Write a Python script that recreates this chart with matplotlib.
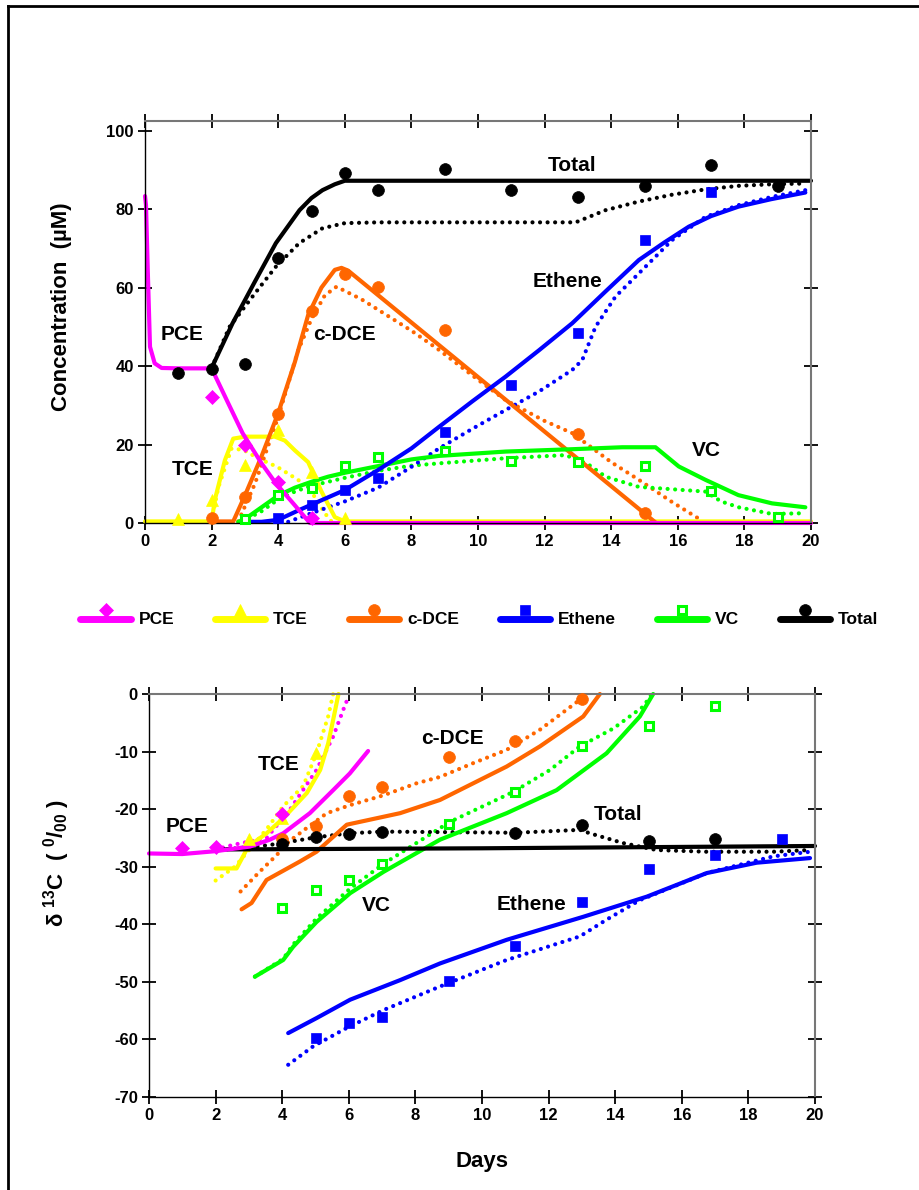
import matplotlib
matplotlib.use("Agg")
import matplotlib.pyplot as plt
from matplotlib.lines import Line2D
from matplotlib.legend_handler import HandlerBase

plt.rcParams["font.family"] = ["Liberation Sans", "DejaVu Sans"]
plt.rcParams["font.weight"] = "bold"
plt.rcParams["axes.labelweight"] = "bold"
plt.rcParams["axes.unicode_minus"] = False
plt.rcParams["mathtext.fontset"] = "custom"
plt.rcParams["mathtext.rm"] = "Liberation Sans"
plt.rcParams["mathtext.bf"] = "Liberation Sans:bold"
plt.rcParams["mathtext.default"] = "bf"

# ---------------- concentration panel (uM) ----------------
pce_obs_days = [2, 3, 4, 5]
pce_obs = [32.2, 19.9, 10.5, 1.3]
pce_fit_days = [0.0, 0.03, 0.08, 0.15, 0.29, 0.5, 1.0, 2.0, 2.5, 2.93, 3.5, 3.93, 4.5, 4.95, 20]
pce_fit = [83.3, 81.0, 65.3, 44.9, 40.7, 39.5, 39.4, 39.4, 30.5, 22.9, 15.2, 10.1, 4.5, 0.0, 0.0]

tce_obs_days = [1, 2, 3, 4, 5, 6]
tce_obs = [0.9, 5.9, 14.8, 23.7, 13.1, 1.2]
tce_fit_days = [0, 2.0, 2.1, 2.4, 2.65, 3.0, 3.9, 4.2, 4.5, 4.9, 5.3, 5.7, 6.0, 20]
tce_fit = [0.4, 0.4, 6, 16, 21.5, 22, 22, 21, 18.5, 15.5, 8, 1.5, 0.4, 0.4]
tce_alt_days = [2.0, 2.2, 2.6, 2.96, 3.4, 3.97, 4.5, 4.9, 5.4, 5.6]
tce_alt = [0.4, 9, 19, 18.6, 16.5, 14.3, 11.5, 9.3, 2.5, 0.4]

cdce_obs_days = [2, 3, 4, 5, 6, 7, 9, 13, 15]
cdce_obs = [1.2, 6.5, 27.7, 54.1, 63.4, 60.2, 49.2, 22.6, 2.5]
cdce_fit_days = [2.0, 2.65, 3.0, 3.5, 4.0, 4.5, 4.9, 5.3, 5.7, 5.9, 6.1, 15.35]
cdce_fit = [0.4, 0.4, 7, 17, 28, 41, 53, 60, 64.5, 65, 64.3, 0]
cdce_alt_days = [2.8, 3.3, 4.0, 4.6, 5.0, 5.4, 5.75, 6.5, 8.0, 8.83, 10.0, 10.83, 12.0, 12.83,
                 14.0, 14.83, 15.8, 16.65]
cdce_alt = [0.4, 10, 27, 44, 52, 58, 60.2, 57, 49, 44.1, 36.5, 31.3, 26, 22.9, 15.5, 11, 5.5, 1.0]

eth_obs_days = [4, 5, 6, 7, 9, 11, 13, 15, 17]
eth_obs = [1.2, 4.6, 8.4, 11.4, 23.3, 35.2, 48.3, 72.1, 84.3]
eth_fit_days = [3.0, 3.5, 4.0, 4.63, 5.3, 6.0, 7.0, 8.0, 8.83, 9.83, 10.83, 11.83, 12.83,
                13.83, 14.83, 15.6, 16.33, 17.0, 17.82, 18.8, 19.83]
eth_fit = [0.3, 0.3, 0.8, 3.3, 5.8, 8.4, 13.5, 19, 24.5, 31, 37.3, 44, 50.9,
           59, 67, 71.5, 75.5, 78.2, 80.6, 82.5, 84.2]
eth_alt_days = [4.3, 5.0, 6.0, 7.0, 8.0, 8.83, 9.83, 10.83, 11.83, 12.83, 13.13, 13.53,
                14.13, 14.83, 15.83, 16.83, 17.83, 18.83, 19.83]
eth_alt = [0.3, 2.5, 5.5, 9, 14.3, 19.0, 24, 28.8, 33.5, 39.0, 41.5, 50.0,
           57.7, 63.6, 72.1, 78.0, 81, 83.1, 84.8]

vc_obs_days = [3, 4, 5, 6, 7, 9, 11, 13, 15, 17, 19]
vc_obs = [0.9, 7.1, 8.8, 14.6, 16.7, 18.4, 15.9, 15.6, 14.6, 8.2, 1.6]
vc_fit_days = [2.8, 3.0, 3.5, 4.0, 4.5, 5.0, 5.5, 6.0, 7.0, 8.0, 8.83, 10.83, 12.83,
               14.33, 15.33, 16.03, 16.83, 17.82, 18.83, 19.83]
vc_fit = [0.3, 1, 4, 7, 9, 10.5, 11.8, 12.8, 14.5, 16.2, 17.1, 18.2, 18.8,
          19.3, 19.3, 14.4, 11, 7.1, 5, 4]
vc_alt_days = [2.9, 3.5, 4.0, 4.5, 5.0, 6.0, 7.0, 8.0, 8.83, 10.83, 12.63, 13.3, 13.83,
               14.83, 15.5, 16.83, 17.3, 17.83, 18.83, 19.83]
vc_alt = [0.3, 3, 6, 8, 9.5, 11.5, 13.3, 14.6, 15.2, 16.5, 17.3, 15, 11.8,
          9.2, 8.8, 8.0, 5.5, 4, 2.3, 2.5]

tot_obs_days = [1, 2, 3, 4, 5, 6, 7, 9, 11, 13, 15, 17, 19]
tot_obs = [38.3, 39.2, 40.5, 67.4, 79.5, 89.1, 84.8, 90.1, 84.8, 83.1, 85.9, 91.1, 85.9]
tot_fit_days = [2.0, 2.63, 3.3, 3.93, 4.64, 5.0, 5.33, 5.7, 6.0, 20]
tot_fit = [39.5, 50.9, 61.5, 71.3, 79.7, 82.8, 84.8, 86.3, 87.2, 87.2]
tot_alt_days = [2.0, 2.54, 3.3, 3.93, 4.63, 5.33, 6.0, 7.0, 12.93, 13.83, 14.83, 15.8,
                16.83, 17.82, 18.8, 19.83]
tot_alt = [39.5, 50, 58.5, 65.3, 71.3, 75.1, 76.4, 76.6, 76.6, 79.7, 81.9, 83.6,
           85, 85.9, 86.3, 86.5]

# ---------------- isotope panel (per mil) ----------------
d_pce_obs_days = [1, 2, 4]
d_pce_obs = [-26.8, -26.5, -20.8]
d_pce_fit_days = [0, 1, 2, 3.03, 3.63, 4.03, 4.83, 5.53, 6.03, 6.58]
d_pce_fit = [-27.7, -27.8, -27.3, -26.5, -25.3, -24.2, -20.7, -16.7, -13.8, -9.9]
d_pce_alt_days = [2.0, 2.53, 3.53, 4.23, 5.03, 5.53, 5.83, 6.0]
d_pce_alt = [-27.0, -26.2, -25.0, -20.1, -13.2, -7.4, -2.8, -0.3]

d_tce_obs_days = [3, 4, 5]
d_tce_obs = [-25.1, -21.6, -10.3]
d_tce_fit_days = [2.0, 2.63, 2.98, 3.53, 4.03, 4.74, 5.14, 5.38, 5.53, 5.69]
d_tce_fit = [-30.3, -30.3, -26.5, -24.2, -21.6, -17.2, -13.2, -8.6, -4.5, 0]
d_tce_alt_days = [2.0, 2.58, 2.93, 3.53, 4.03, 4.63, 5.03, 5.38, 5.53]
d_tce_alt = [-32.4, -30, -27.6, -23.5, -19.5, -16, -10.3, -3.9, 0]

d_cdce_obs_days = [4, 5, 6, 7, 9, 11, 13]
d_cdce_obs = [-25.1, -22.9, -17.8, -16.2, -11.0, -8.1, -0.9]
d_cdce_fit_days = [2.78, 3.08, 3.53, 4.53, 5.03, 5.94, 7.54, 8.74, 10.74, 11.74, 13.04, 13.54]
d_cdce_fit = [-37.4, -36.3, -32.3, -29.1, -27.4, -22.7, -20.7, -18.4, -12.6, -9.1, -3.9, 0]
d_cdce_alt_days = [2.75, 3.3, 3.83, 4.23, 4.8, 5.34, 6.04, 7.04, 8.04, 8.74, 9.74, 10.74,
                   11.74, 12.94, 13.1]
d_cdce_alt = [-34.3, -31.0, -28, -25.5, -23, -20.7, -19.3, -17.6, -15.5, -14.4, -12, -9.7,
              -6.2, -1.0, -0.3]

d_eth_obs_days = [5, 6, 7, 9, 11, 13, 15, 17, 19]
d_eth_obs = [-59.8, -57.2, -56.1, -49.9, -43.7, -36.1, -30.4, -28.0, -25.2]
d_eth_fit_days = [4.18, 5.03, 6.04, 7.54, 8.74, 10.74, 13.04, 14.95, 16.75, 18.25, 19.85]
d_eth_fit = [-58.9, -56.3, -53.1, -49.7, -46.8, -42.7, -38.7, -35.2, -31.1, -29.3, -28.5]
d_eth_alt_days = [4.18, 4.93, 5.94, 7.04, 8.74, 10.74, 12.94, 13.74, 14.74, 16.75, 18.75, 19.85]
d_eth_alt = [-64.4, -61.2, -58, -54.9, -50.8, -46.2, -42.1, -39.2, -35.8, -31.1, -28.2, -27.4]

d_vc_obs_days = [4, 5, 6, 7, 9, 11, 13, 15, 17]
d_vc_obs = [-37.1, -34.0, -32.3, -29.6, -22.6, -17.1, -9.1, -5.5, -2.1]
d_vc_fit_days = [3.18, 4.03, 4.33, 5.03, 6.04, 7.04, 8.74, 10.74, 12.24, 13.74, 14.74, 15.14]
d_vc_fit = [-49.1, -46.2, -43.9, -39.6, -34.6, -30.9, -25.3, -20.7, -16.7, -10.3, -3.9, 0]
d_vc_alt_days = [3.18, 4.03, 4.33, 5.03, 6.04, 7.04, 9.04, 10.94, 12.04, 12.94, 13.94, 14.84, 15.1]
d_vc_alt = [-49.1, -46, -43.5, -39, -33.8, -29.5, -22.2, -17, -13.2, -9.1, -6.0, -2.2, 0]

d_tot_obs_days = [4, 5, 6, 7, 11, 13, 15, 17]
d_tot_obs = [-26.0, -24.9, -24.3, -23.9, -24.1, -22.8, -25.5, -25.1]
d_tot_fit_days = [2.1, 10, 20]
d_tot_fit = [-27.0, -26.8, -26.4]
d_tot_alt_days = [2.13, 3.53, 4.0, 5.0, 6.0, 7.0, 11.0, 12.94, 13.24, 14.24, 15.24, 16.75,
                  18.75, 19.85]
d_tot_alt = [-27.1, -26.3, -25.9, -24.9, -24.2, -23.9, -24.1, -23.6, -24.2, -25.9, -27.1,
             -27.4, -27.4, -27.1]

species = ["PCE", "TCE", "c-DCE", "Ethene", "VC", "Total"]
colors = {"PCE": "#FF00FF", "TCE": "#FFFF00", "c-DCE": "#FF6600",
          "Ethene": "#0000FF", "VC": "#00FF00", "Total": "#000000"}
markers = {"PCE": ("D", 7.5), "TCE": ("^", 8.5), "c-DCE": ("o", 8.5),
           "Ethene": ("s", 7.5), "VC": ("s", 5.5), "Total": ("o", 8.5)}

top_sets = {
    "PCE": (pce_obs_days, pce_obs, pce_fit_days, pce_fit, None, None),
    "TCE": (tce_obs_days, tce_obs, tce_fit_days, tce_fit, tce_alt_days, tce_alt),
    "c-DCE": (cdce_obs_days, cdce_obs, cdce_fit_days, cdce_fit, cdce_alt_days, cdce_alt),
    "Ethene": (eth_obs_days, eth_obs, eth_fit_days, eth_fit, eth_alt_days, eth_alt),
    "VC": (vc_obs_days, vc_obs, vc_fit_days, vc_fit, vc_alt_days, vc_alt),
    "Total": (tot_obs_days, tot_obs, tot_fit_days, tot_fit, tot_alt_days, tot_alt),
}
bottom_sets = {
    "PCE": (d_pce_obs_days, d_pce_obs, d_pce_fit_days, d_pce_fit, d_pce_alt_days, d_pce_alt),
    "TCE": (d_tce_obs_days, d_tce_obs, d_tce_fit_days, d_tce_fit, d_tce_alt_days, d_tce_alt),
    "c-DCE": (d_cdce_obs_days, d_cdce_obs, d_cdce_fit_days, d_cdce_fit, d_cdce_alt_days, d_cdce_alt),
    "Ethene": (d_eth_obs_days, d_eth_obs, d_eth_fit_days, d_eth_fit, d_eth_alt_days, d_eth_alt),
    "VC": (d_vc_obs_days, d_vc_obs, d_vc_fit_days, d_vc_fit, d_vc_alt_days, d_vc_alt),
    "Total": (d_tot_obs_days, d_tot_obs, d_tot_fit_days, d_tot_fit, d_tot_alt_days, d_tot_alt),
}

top_labels = [("PCE", 1.1, 47.9), ("c-DCE", 6.0, 47.9), ("TCE", 1.43, 13.7),
              ("Total", 12.83, 91.2), ("Ethene", 12.68, 61.5), ("VC", 16.87, 18.4)]
bottom_labels = [("PCE", 1.13, -23.0), ("TCE", 3.88, -12.2), ("c-DCE", 9.1, -7.7),
                 ("VC", 6.84, -36.8), ("Total", 14.1, -21.0), ("Ethene", 11.5, -36.6)]

draw_order = ["TCE", "c-DCE", "VC", "Ethene", "Total", "PCE"]
DOT = dict(linestyle=(0, (0.01, 1.8)), dash_capstyle="round", lw=3)


def marker_kw(name):
    m, ms = markers[name]
    c = colors[name]
    if name == "VC":
        return dict(marker=m, ms=ms, mfc="white", mec=c, mew=2.2)
    return dict(marker=m, ms=ms, mfc=c, mec=c, mew=0.5)


def draw_panel(ax, sets, labels):
    for i, name in enumerate(draw_order):
        od, ov, fd, fv, ad, av = sets[name]
        c = colors[name]
        if ad is not None:
            ax.plot(ad, av, color=c, zorder=2 + i * 0.01, clip_on=False, **DOT)
        ax.plot(fd, fv, color=c, lw=3, solid_capstyle="round", zorder=2.1 + i * 0.01,
                clip_on=False)
    for name in draw_order:
        od, ov = sets[name][0], sets[name][1]
        ax.plot(od, ov, linestyle="none", zorder=3, clip_on=False, **marker_kw(name))
    for text, x, y in labels:
        ax.text(x, y, text, fontsize=15, fontweight="bold", ha="center", va="center", zorder=4)


def style_axes(ax):
    ax.tick_params(direction="inout", length=10, width=1.3, top=True, right=True,
                   labeltop=False, labelright=False, labelsize=12, pad=3)
    for side in ["left", "bottom"]:
        ax.spines[side].set_color("black")
        ax.spines[side].set_linewidth(1.0)
    for side in ["top", "right"]:
        ax.spines[side].set_color("#777777")
        ax.spines[side].set_linewidth(1.5)
    for lab in ax.get_xticklabels() + ax.get_yticklabels():
        lab.set_fontweight("bold")


fig = plt.figure(figsize=(9.2, 11.9), dpi=100)

ax1 = fig.add_axes([145 / 920, 1 - 523 / 1190, 666 / 920, (523 - 120.7) / 1190])
draw_panel(ax1, top_sets, top_labels)
ax1.set_xlim(0, 20)
ax1.set_ylim(0, 102.5)
ax1.set_xticks(range(0, 21, 2))
ax1.set_yticks(range(0, 101, 20))
ax1.set_ylabel("Concentration  (µM)", fontsize=16)
ax1.yaxis.set_label_coords(-0.11, 0.537)
style_axes(ax1)

ax2 = fig.add_axes([149 / 920, 1 - 1097 / 1190, 666 / 920, (1097 - 694) / 1190])
draw_panel(ax2, bottom_sets, bottom_labels)
ax2.set_xlim(0, 20)
ax2.set_ylim(-70, 0)
ax2.set_xticks(range(0, 21, 2))
ax2.set_yticks(range(-70, 1, 10))
ax2.set_ylabel("δ $^{13}$C  ( $^{0}$/$_{00}$ )", fontsize=16)
ax2.yaxis.set_label_coords(-0.115, 0.58)
ax2.set_xlabel("Days", fontsize=16, labelpad=20)
style_axes(ax2)


class LineMarkerAbove(HandlerBase):
    def create_artists(self, legend, orig_handle, xdescent, ydescent, width, height,
                       fontsize, trans):
        y0 = -ydescent + height / 2 - 1
        line = Line2D([-xdescent, -xdescent + width], [y0, y0], color=orig_handle.get_color(),
                      lw=5, solid_capstyle="round", transform=trans)
        mark = Line2D([-xdescent + width / 2], [y0 + 6.5], linestyle="none",
                      marker=orig_handle.get_marker(), ms=orig_handle.get_markersize(),
                      mfc=orig_handle.get_markerfacecolor(), mec=orig_handle.get_markeredgecolor(),
                      mew=orig_handle.get_markeredgewidth(), transform=trans)
        return [line, mark]


handles = [Line2D([], [], color=colors[n], **marker_kw(n)) for n in species]
fig.legend(handles, species, loc="center", bbox_to_anchor=(0.521, 1 - 619 / 1190), ncol=6,
           frameon=False, prop=dict(size=12.5, weight="bold"), handlelength=2.9,
           handletextpad=0.45, columnspacing=2.35, handler_map={Line2D: LineMarkerAbove()})

# outer frame (top and left edges visible in the reference)
fig.add_artist(Line2D([8 / 920, 1], [1 - 6 / 1190, 1 - 6 / 1190], transform=fig.transFigure,
                      color="black", lw=2))
fig.add_artist(Line2D([8 / 920, 8 / 920], [0, 1 - 6 / 1190], transform=fig.transFigure,
                      color="black", lw=2))

fig.savefig("out.png", dpi=100)
